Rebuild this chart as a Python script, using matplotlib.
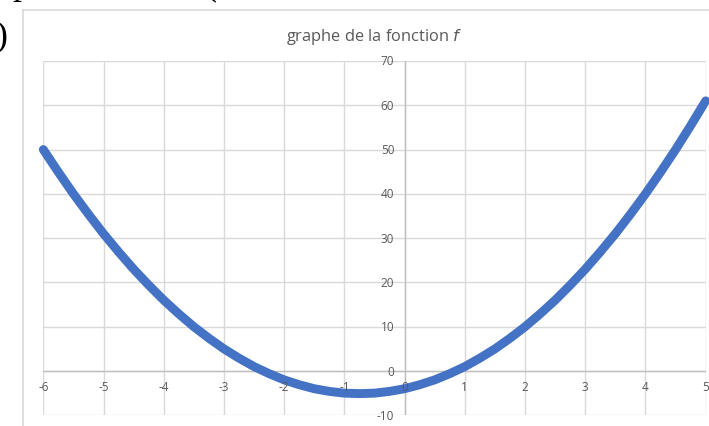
import matplotlib.pyplot as plt
from matplotlib.lines import Line2D

# values of f, read every quarter unit from -6 to 5
xs = [-6, -5.75, -5.5, -5.25, -5, -4.75, -4.5, -4.25, -4, -3.75, -3.5, -3.25,
      -3, -2.75, -2.5, -2.25, -2, -1.75, -1.5, -1.25, -1, -0.75, -0.5, -0.25,
      0, 0.25, 0.5, 0.75, 1, 1.25, 1.5, 1.75, 2, 2.25, 2.5, 2.75, 3, 3.25,
      3.5, 3.75, 4, 4.25, 4.5, 4.75, 5]
ys = [50, 44.9, 40, 35.4, 31, 26.9, 23, 19.4, 16, 12.9, 10, 7.4,
      5, 2.9, 1, -0.6, -2, -3.1, -4, -4.6, -5, -5.1, -5, -4.6,
      -4, -3.1, -2, -0.6, 1, 2.9, 5, 7.4, 10, 12.9, 16, 19.4, 23, 26.9,
      31, 35.4, 40, 44.9, 50, 55.4, 61]

x_ticks = list(range(-6, 6))
y_ticks = list(range(-10, 71, 10))

TXT = "#595959"
GRID = "#d9d9d9"
AXIS = "#bfbfbf"
BLUE = "#4472c4"

plt.rcParams['font.family'] = ['Open Sans', 'DejaVu Sans']

fig = plt.figure(figsize=(7.09, 4.27), dpi=100)
W, H = 709, 427

# chart frame and bits of the surrounding page
fig.add_artist(Line2D([22.7 / W, 1.0], [1 - 11 / H, 1 - 11 / H], color=GRID, lw=1.2))
fig.add_artist(Line2D([22.7 / W, 22.7 / W], [1 - 11 / H, 0.0], color=GRID, lw=1.2))
fig.text(-0.006, 1 - 37 / H, ")", family="Liberation Serif", fontsize=26,
         color="black", va="center", ha="left")
fig.text(12 / W, 1 + 6 / H, "p", family="Liberation Serif", fontsize=26,
         color="black", va="baseline", ha="left")
fig.text(204 / W, 1 + 6 / H, "(", family="Liberation Serif", fontsize=26,
         color="black", va="baseline", ha="left")

ax = fig.add_axes([43.3 / W, 1 - 416.3 / H, (705.7 - 43.3) / W, (416.3 - 62) / H])
ax.set_xlim(-6, 5)
ax.set_ylim(-10, 70)
ax.set_xticks(x_ticks)
ax.set_yticks(y_ticks)
ax.grid(True, color=GRID, lw=1)
ax.tick_params(length=0, labelbottom=False, labelleft=False)
for s in ax.spines.values():
    s.set_visible(False)
ax.axhline(0, color=AXIS, lw=1)
ax.axvline(0, color=AXIS, lw=1)

for t in x_ticks:
    ax.annotate(str(t), (t, 0), xytext=(0, -11.5), textcoords="offset points",
                ha="center", va="center", fontsize=8.5, color=TXT)
for t in y_ticks:
    ax.annotate(str(t), (0, t), xytext=(-7.5, 0), textcoords="offset points",
                ha="right", va="center", fontsize=8.5, color=TXT)

ax.plot(xs, ys, color=BLUE, lw=6.4, solid_capstyle="round",
        solid_joinstyle="round", clip_on=False)

# title sits in figure space above the plot area
fig.text((43.3 + 705.7) / 2 / W, 1 - 37 / H, "graphe de la fonction $f$",
         fontsize=11.8, color=TXT, ha="center", va="center")

fig.savefig("out.png", dpi=100)
